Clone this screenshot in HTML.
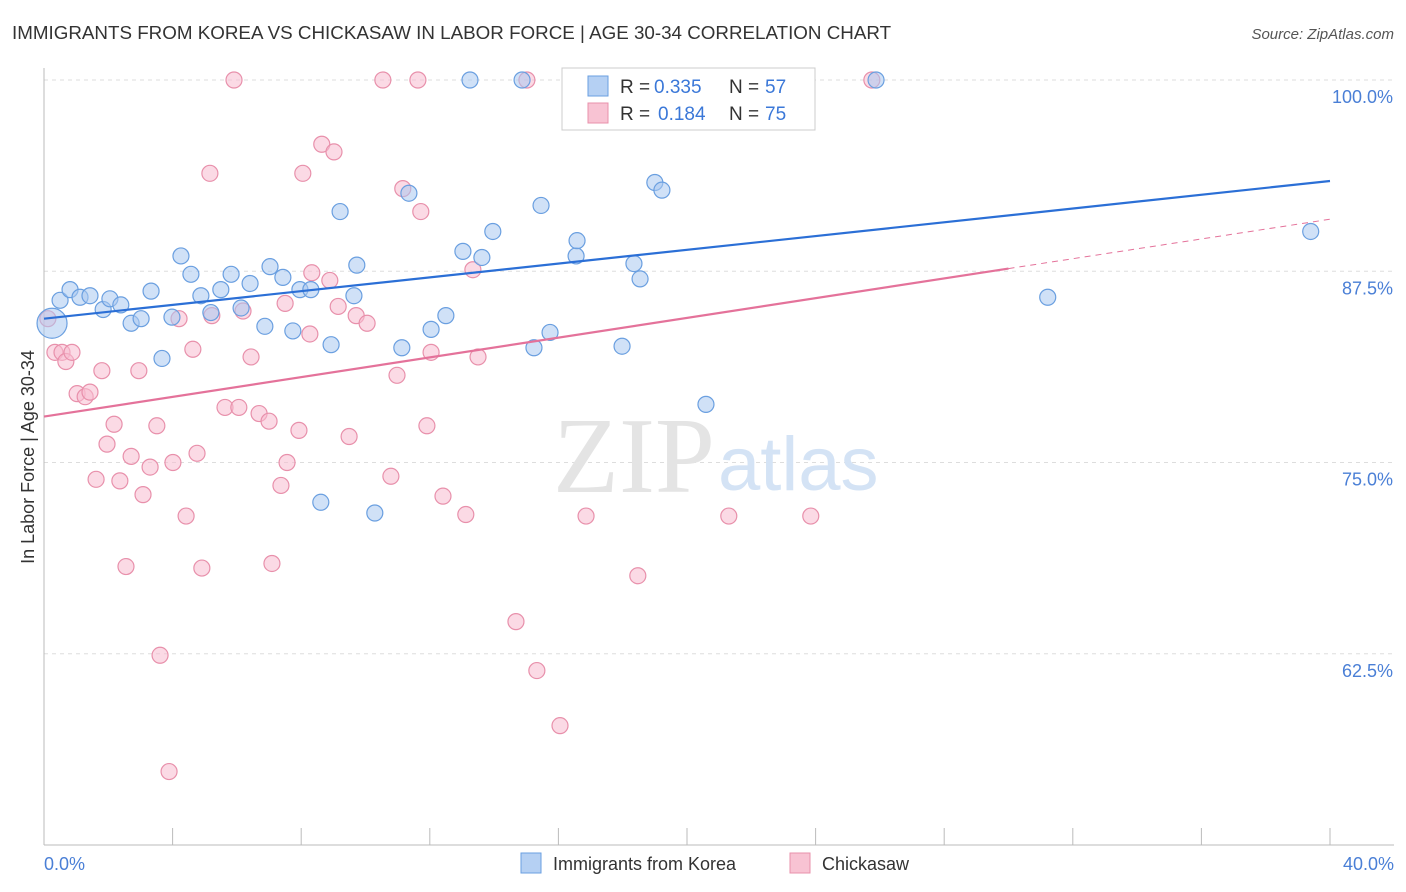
<!DOCTYPE html>
<html><head><meta charset="utf-8"><style>
body{margin:0;background:#fff;font-family:"Liberation Sans",sans-serif;}
svg{display:block}
</style></head><body>
<svg width="1406" height="892" viewBox="0 0 1406 892">
<text x="12" y="39" font-size="18.8" fill="#333">IMMIGRANTS FROM KOREA VS CHICKASAW IN LABOR FORCE | AGE 30-34 CORRELATION CHART</text>
<text x="1394" y="39" font-size="15" fill="#555" font-style="italic" text-anchor="end">Source: ZipAtlas.com</text>
<g id="grid"></g>
<text x="715" y="492" font-size="108" fill="#e4e4e4" text-anchor="end" font-family="Liberation Serif,serif">ZIP</text>
<text x="718" y="490" font-size="76" fill="#d4e3f5">atlas</text>
<g id="marks"></g>
<text transform="translate(34,457) rotate(-90)" font-size="18" fill="#333" text-anchor="middle">In Labor Force | Age 30-34</text>
<text x="44" y="870" font-size="18" fill="#4a7fd6">0.0%</text>
<text x="1394" y="870" font-size="18" fill="#4a7fd6" text-anchor="end">40.0%</text>
<g font-size="19">
<rect x="562" y="68" width="253" height="62" fill="#fff" stroke="#ccc"/>
<rect x="588" y="76" width="20" height="20" fill="#b5d0f3" stroke="#6a9fe0"/>
<text x="620" y="93" fill="#333">R =</text>
<text x="654" y="93" fill="#3b78d8">0.335</text>
<text x="729" y="93" fill="#333">N =</text>
<text x="765" y="93" fill="#3b78d8">57</text>
<rect x="588" y="103" width="20" height="20" fill="#f8c3d3" stroke="#e890ab"/>
<text x="620" y="120" fill="#333">R =</text>
<text x="658" y="120" fill="#3b78d8">0.184</text>
<text x="729" y="120" fill="#333">N =</text>
<text x="765" y="120" fill="#3b78d8">75</text>
</g>
<g>
<rect x="521" y="853" width="20" height="20" fill="#b5d0f3" stroke="#6a9fe0"/>
<text x="553" y="870" font-size="18" fill="#333">Immigrants from Korea</text>
<rect x="790" y="853" width="20" height="20" fill="#f8c3d3" stroke="#e890ab"/>
<text x="822" y="870" font-size="18" fill="#333">Chickasaw</text>
</g>
</svg>
<script>
const yTicks=[100,87.5,75,62.5];
const yTickLabels=["100.0%","87.5%","75.0%","62.5%"];
const xTicks=[0,4,8,12,16,20,24,28,32,36,40];
const koreaX=[0.25,0.5,0.81,1.12,1.43,1.84,2.05,2.39,2.71,3.02,3.33,3.67,3.98,4.26,4.57,4.88,5.19,5.5,5.82,6.13,6.41,6.87,7.03,7.43,7.74,7.96,8.3,8.61,8.93,9.21,9.64,9.73,10.29,11.13,11.35,12.04,12.5,13.03,13.25,13.62,13.96,14.87,15.24,15.46,15.74,16.55,16.58,17.98,18.35,18.54,19.0,19.22,19.78,20.59,25.88,31.22,39.4];
const koreaY=[84.1,85.6,86.3,85.8,85.9,85.0,85.7,85.3,84.1,84.4,86.2,81.8,84.5,88.5,87.3,85.9,84.8,86.3,87.3,85.1,86.7,83.9,87.8,87.1,83.6,86.3,86.3,72.4,82.7,91.4,85.9,87.9,71.7,82.5,92.6,83.7,84.6,88.8,100,88.4,90.1,100,82.5,91.8,83.5,88.5,89.5,82.6,88.0,87.0,93.3,92.8,100,78.8,100,85.8,90.1];
const chickX=[0.12,0.34,0.56,0.68,0.87,1.03,1.28,1.43,1.8,1.96,2.18,1.62,2.36,2.55,2.71,2.95,3.08,3.3,3.51,3.61,3.89,4.01,4.2,4.42,4.63,4.76,4.91,5.16,5.22,5.63,5.91,6.06,6.19,6.44,6.69,7.0,7.09,7.37,7.56,7.5,7.93,8.05,8.27,8.33,8.64,8.89,9.02,9.15,9.49,9.71,10.05,10.54,10.79,10.98,11.16,11.63,11.72,11.91,12.04,12.41,13.12,13.34,13.5,14.68,15.02,15.33,16.05,16.58,16.86,18.47,21.3,23.85,25.75];
const chickY=[84.4,82.2,82.2,81.6,82.2,79.5,79.3,79.6,81.0,76.2,77.5,73.9,73.8,68.2,75.4,81.0,72.9,74.7,77.4,62.4,54.8,75.0,84.4,71.5,82.4,75.6,68.1,93.9,84.6,78.6,100,78.6,84.9,81.9,78.2,77.7,68.4,73.5,75.0,85.4,77.1,93.9,83.4,87.4,95.8,86.9,95.3,85.2,76.7,84.6,84.1,100,74.1,80.7,92.9,100,91.4,77.4,82.2,72.8,71.6,87.6,81.9,64.6,100,61.4,57.8,100,71.5,67.6,71.5,71.5,100];
const koreaTrend=[84.4,93.4];
const chickTrend=[78.0,90.9];
const chickSolidEnd=30;
const NS="http://www.w3.org/2000/svg";
const xs=v=>44+v/40*1286;
const ys=v=>80+(100-v)*15.3;
function mk(tag,attrs,parent){const e=document.createElementNS(NS,tag);for(const k in attrs)e.setAttribute(k,attrs[k]);parent.appendChild(e);return e;}
const grid=document.getElementById('grid'),marks=document.getElementById('marks'),svg=document.querySelector('svg');
yTicks.forEach((t,i)=>{
  const l=mk('line',{x1:44,x2:1394,y1:ys(t),y2:ys(t),stroke:'#ddd','stroke-dasharray':'4,4'},grid);
  
  
  const tx=mk('text',{x:1393,y:ys(t)+23,'font-size':18,fill:'#4a7fd6','text-anchor':'end'},svg);
  tx.textContent=yTickLabels[i];
  
  
});
const ax=mk('line',{x1:44,x2:44,y1:68,y2:845,stroke:'#bbb'},grid);


const bx=mk('line',{x1:44,x2:1394,y1:845,y2:845,stroke:'#bbb'},grid);


xTicks.forEach(t=>{
  const l=mk('line',{x1:xs(t),x2:xs(t),y1:828,y2:845,stroke:'#bbb'},grid);
  
  
});
function pts(X,Y,fill,stroke,name){
  X.forEach((x,i)=>{
    const r=(i===0&&name==='korea-point')?15:8;
    const c=mk('circle',{cx:xs(x),cy:ys(Y[i]),r:r,fill:fill,'fill-opacity':0.55,stroke:stroke,'stroke-width':1.2},marks);
    
    
  });
}
pts(chickX,chickY,'#f8bccf','#e890ab','chickasaw-point');
pts(koreaX,koreaY,'#aac8f0','#6a9fe0','korea-point');
const kl=mk('line',{x1:xs(0),y1:ys(koreaTrend[0]),x2:xs(40),y2:ys(koreaTrend[1]),stroke:'#2b6fd6','stroke-width':2.2},marks);


const cm=chickTrend[0]+(chickTrend[1]-chickTrend[0])*chickSolidEnd/40;
const cl=mk('line',{x1:xs(0),y1:ys(chickTrend[0]),x2:xs(chickSolidEnd),y2:ys(cm),stroke:'#e4729a','stroke-width':2.2},marks);


const cd=mk('line',{x1:xs(chickSolidEnd),y1:ys(cm),x2:xs(40),y2:ys(chickTrend[1]),stroke:'#e4729a','stroke-width':1,'stroke-dasharray':'6,5'},marks);


</script>
</body></html>
